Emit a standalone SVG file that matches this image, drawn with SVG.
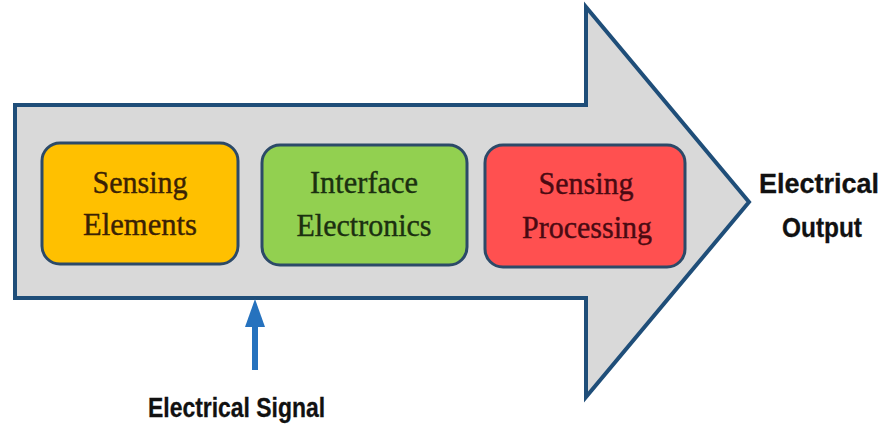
<svg xmlns="http://www.w3.org/2000/svg" width="881" height="425" viewBox="0 0 881 425">
<defs>
<style>
.box{stroke:#2C4A68;stroke-width:3}
.serif{font-family:"Liberation Serif","Times New Roman",serif;font-size:32px;text-anchor:middle;stroke-width:0.4}
.lbl{font-family:"Liberation Sans",Arial,sans-serif;font-weight:bold;font-size:27px;fill:#111;stroke:#111;stroke-width:0.3}
</style>
</defs>
<rect width="881" height="425" fill="#ffffff"/>
<g id="main-arrow">
<polygon points="15,105 586,105 586,7 749,202 586,397 586,298 15,298" fill="#D9D9D9" stroke="#1F4E79" stroke-width="4" stroke-linejoin="miter"/>
</g>
<g id="sensing-elements">
<rect class="box" x="42" y="143" width="196" height="121" rx="18" fill="#FFC000"/>
<text class="serif" x="140" y="193" fill="#3A2205" stroke="#3A2205" textLength="95" lengthAdjust="spacingAndGlyphs">Sensing</text>
<text class="serif" x="140" y="235" fill="#3A2205" stroke="#3A2205" textLength="114" lengthAdjust="spacingAndGlyphs">Elements</text>
</g>
<g id="interface-electronics">
<rect class="box" x="262" y="145" width="205" height="120" rx="18" fill="#92D050"/>
<text class="serif" x="364" y="193" fill="#1B3010" stroke="#1B3010" textLength="108" lengthAdjust="spacingAndGlyphs">Interface</text>
<text class="serif" x="364" y="236" fill="#1B3010" stroke="#1B3010" textLength="135" lengthAdjust="spacingAndGlyphs">Electronics</text>
</g>
<g id="sensing-processing">
<rect class="box" x="485" y="145" width="200" height="122" rx="18" fill="#FF5050"/>
<text class="serif" x="586" y="194" fill="#4A0A12" stroke="#4A0A12" textLength="95" lengthAdjust="spacingAndGlyphs">Sensing</text>
<text class="serif" x="587" y="238" fill="#4A0A12" stroke="#4A0A12" textLength="130" lengthAdjust="spacingAndGlyphs">Processing</text>
</g>
<g id="connectors">
<line x1="255" y1="370" x2="255" y2="322" stroke="#2672BE" stroke-width="6"/>
<polygon points="255,299 265,327 245,327" fill="#2672BE"/>
</g>
<g id="electrical-output">
<text class="lbl" x="819" y="193" text-anchor="middle" font-size="22" stroke-width="0.6">Electrical</text>
<text class="lbl" x="822" y="237" text-anchor="middle" font-size="22" stroke-width="0.6" textLength="80" lengthAdjust="spacingAndGlyphs">Output</text>
</g>
<g id="electrical-signal">
<text class="lbl" x="236.5" y="417" text-anchor="middle" textLength="177" lengthAdjust="spacingAndGlyphs">Electrical Signal</text>
</g>
</svg>
